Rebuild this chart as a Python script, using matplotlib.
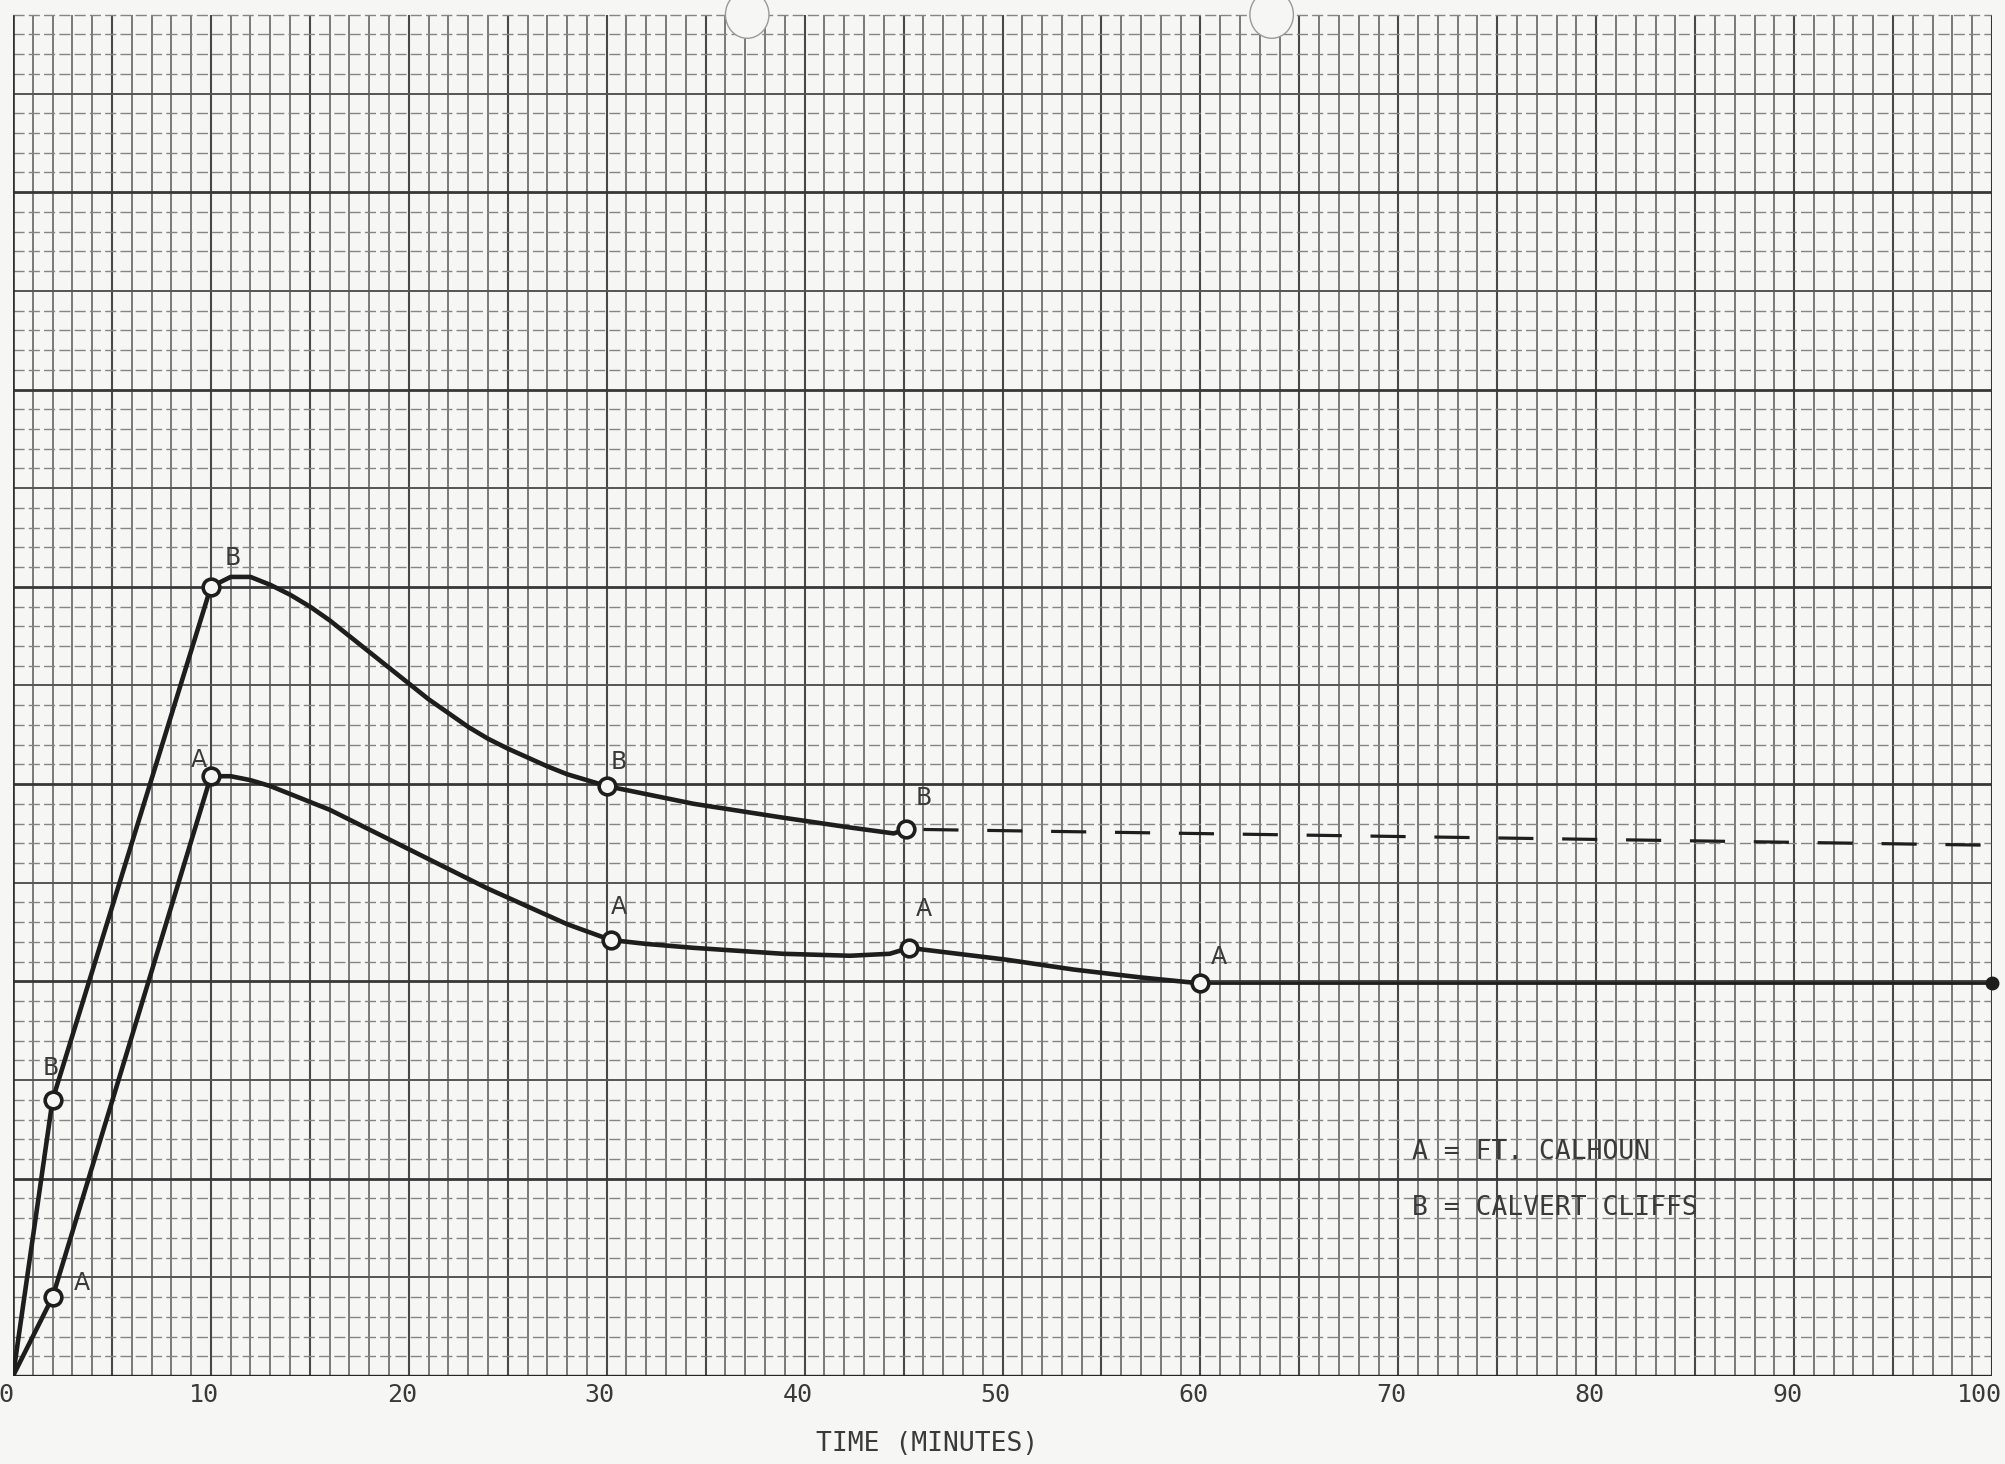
import numpy as np
import matplotlib.pyplot as plt
import matplotlib.transforms as mtransforms
from matplotlib.patches import Ellipse

# values (x = minutes, y = grid squares)
a_curve_x = [0, 2, 10, 11, 12, 13, 14, 15, 16, 17, 18, 19, 20, 22, 24, 26, 28, 30.2,
             32, 34.4, 38.9, 42.3, 44.3, 45.3, 46.1, 50.2, 53.6, 57.0, 60.0]
a_curve_y = [0, 4, 30.4, 30.4, 30.2, 29.9, 29.5, 29.1, 28.7, 28.2, 27.7, 27.2, 26.7,
             25.7, 24.7, 23.8, 22.9, 22.1, 21.9, 21.7, 21.4, 21.3, 21.4, 21.7, 21.6,
             21.1, 20.6, 20.2, 19.9]
a_tail_x = [60.0, 100]
a_tail_y = [19.9, 19.9]

b_curve_x = [0, 2, 10, 11, 12, 13, 14, 15, 16, 17, 18, 19, 20, 21, 22, 23, 24, 25, 26,
             27, 28, 29, 30, 34.4, 38.9, 42.3, 44.5, 45.1]
b_curve_y = [0, 14, 40, 40.5, 40.5, 40.1, 39.6, 39.0, 38.3, 37.5, 36.7, 35.9, 35.1,
             34.3, 33.6, 32.9, 32.3, 31.8, 31.35, 30.9, 30.5, 30.2, 29.9, 29.0, 28.3,
             27.8, 27.5, 27.7]
b_dash_x = [46, 100]
b_dash_y = [27.7, 26.9]

a_pts_x = [2, 10, 30.2, 45.3, 60.0]
a_pts_y = [4, 30.4, 22.1, 21.7, 19.9]
b_pts_x = [2, 10, 30, 45.1]
b_pts_y = [14, 40, 29.9, 27.7]

tick_pos = [0, 10, 20, 30, 40, 50, 60, 70, 80, 90, 100]
tick_labels = ['0', '10', '20', '30', '40', '50', '60', '70', '80', '90', '100']
legend_lines = ['A = FT. CALHOUN', 'B = CALVERT CLIFFS']

bg = '#f6f6f4'
ink = '#1e1e1e'
txt = '#3a3a3a'
mono = 'DejaVu Sans Mono'

fig = plt.figure(figsize=(20.06, 14.64), dpi=100, facecolor=bg)
ax = fig.add_axes([13 / 2006, 88 / 1464, 1979 / 2006, 1376 / 1464])
ax.set_facecolor(bg)
ax.set_xlim(0, 100)
ax.set_ylim(0, 1376 / 19.73)
for s in ax.spines.values():
    s.set_visible(False)

# graph paper
top = 69.0
for x in range(0, 101):
    if x % 5 == 0:
        lw, c = 1.5, '#484848'
    else:
        lw, c = 1.15, '#5e5e5e'
    ax.vlines(x, 0, top, colors=c, linewidth=lw, zorder=1)
for y in range(0, 70):
    if y % 10 == 0:
        ax.hlines(y, 0, 100, colors='#383838', linewidth=2.0, zorder=1)
    elif y % 5 == 0:
        ax.hlines(y, 0, 100, colors='#555555', linewidth=1.4, zorder=1)
    else:
        ax.hlines(y, 0, 100, colors='#858585', linewidth=1.0,
                  linestyles=(0, (8, 3)), zorder=1)
ax.hlines(0, 0, 100, colors='#262626', linewidth=2.4, zorder=2)
ax.vlines([0, 100], 0, top, colors='#303030', linewidth=1.9, zorder=2)

# punched holes at the top of the sheet
for hx in [37.1, 63.6]:
    ax.add_patch(Ellipse((hx, 69.0), 2.2, 2.4, facecolor=bg, edgecolor='#9a9a9a',
                         linewidth=1.0, zorder=3, clip_on=False))

# curves
ax.plot(a_curve_x, a_curve_y, color=ink, linewidth=3.3, zorder=4,
        solid_joinstyle='round', solid_capstyle='round')
ax.plot(a_tail_x, a_tail_y, color=ink, linewidth=2.0, zorder=4)
ax.plot(b_curve_x, b_curve_y, color=ink, linewidth=3.3, zorder=4,
        solid_joinstyle='round', solid_capstyle='round')
ax.plot(b_dash_x, b_dash_y, color=ink, linewidth=2.3, dashes=(11, 9), zorder=4)

ax.plot(a_pts_x, a_pts_y, 'o', markersize=12, markerfacecolor=bg,
        markeredgecolor=ink, markeredgewidth=2.6, zorder=5)
ax.plot(b_pts_x, b_pts_y, 'o', markersize=12, markerfacecolor=bg,
        markeredgecolor=ink, markeredgewidth=2.6, zorder=5)
ax.plot([a_tail_x[-1]], [a_tail_y[-1]], 'o', markersize=9, color=ink,
        clip_on=False, zorder=5)

# point letters
a_offsets = [(21, 10), (-9, 12), (6, 24), (10, 28), (13, 19)]
b_offsets = [(-1, 23), (16, 21), (9, 17), (13, 23)]
for (px, py), off in zip(zip(a_pts_x, a_pts_y), a_offsets):
    ax.annotate('A', (px, py), xytext=off, textcoords='offset points',
                ha='center', va='center', fontsize=17, color=txt, zorder=6)
for (px, py), off in zip(zip(b_pts_x, b_pts_y), b_offsets):
    ax.annotate('B', (px, py), xytext=off, textcoords='offset points',
                ha='center', va='center', fontsize=17, color=txt, zorder=6)

# key
ax.text(70.7, 11.35, legend_lines[0], family=mono, fontsize=19, color=txt,
        ha='left', va='center', zorder=6)
ax.text(70.7, 8.5, legend_lines[1], family=mono, fontsize=19, color=txt,
        ha='left', va='center', zorder=6)

ax.set_xticks(tick_pos, tick_labels)
ax.set_yticks([])
ax.tick_params(axis='x', length=0, pad=5, labelsize=18, labelcolor=txt)
for lab in ax.get_xticklabels():
    lab.set_family(mono)
    shift = -9 if lab.get_text() == '100' else -5
    lab.set_transform(lab.get_transform() +
                      mtransforms.ScaledTranslation(shift / 72, 0, fig.dpi_scale_trans))
ax.text(46.2, -3.45, 'TIME (MINUTES)', family=mono, fontsize=19, color=txt,
        ha='center', va='center')

fig.savefig('out.png', dpi=100, facecolor=bg)
